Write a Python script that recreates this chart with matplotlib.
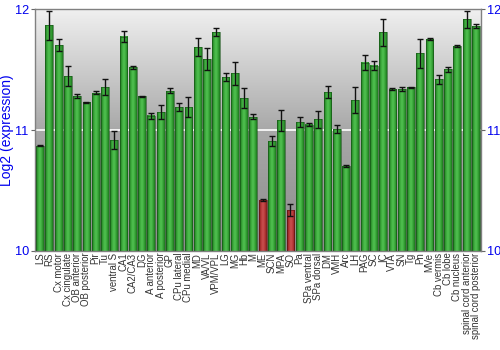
import matplotlib
matplotlib.use('Agg')
import matplotlib.pyplot as plt
from matplotlib.colors import LinearSegmentedColormap
import numpy as np

plt.rcParams['font.family'] = ['Liberation Sans', 'DejaVu Sans']

# brain regions and their log2 expression (mean, error)
regions = ['LS', 'RS', 'Cx motor', 'Cx cingulate', 'OB anterior', 'OB posterior',
           'Pir', 'Tu', 'ventral S', 'CA1', 'CA2/CA3', 'DG', 'A anterior',
           'A posterior', 'GP', 'CPu lateral', 'CPu medial', 'MD', 'VA/VL',
           'VPM/VPL', 'LG', 'MG', 'Hb', 'M', 'ME', 'SCN', 'MPA', 'SO', 'Pa',
           'SPa ventral', 'SPa dorsal', 'DM', 'VMH', 'Arc', 'LH', 'PAG', 'SC',
           'IC', 'VTA', 'SN', 'Tg', 'Pn', 'MVe', 'Cb vermis', 'Cb lobe',
           'Cb nucleus', 'spinal cord anterior', 'spinal cord posterior']
expr = [10.87, 11.87, 11.705, 11.45, 11.28, 11.23,
        11.31, 11.355, 10.92, 11.775, 11.52, 11.28, 11.12,
        11.15, 11.325, 11.19, 11.19, 11.685, 11.59,
        11.81, 11.44, 11.47, 11.265, 11.11, 10.42, 10.91, 11.08, 10.34, 11.066,
        11.045, 11.09, 11.315, 11.008, 10.70, 11.25, 11.56, 11.535,
        11.81, 11.34, 11.34, 11.355, 11.635, 11.755, 11.42, 11.505,
        11.70, 11.92, 11.86]
err = [0.005, 0.12, 0.05, 0.085, 0.015, 0.004,
       0.015, 0.065, 0.075, 0.047, 0.01, 0.004, 0.025,
       0.06, 0.02, 0.03, 0.083, 0.075, 0.093,
       0.033, 0.035, 0.097, 0.085, 0.02, 0.01, 0.04, 0.09, 0.05, 0.04,
       0.01, 0.07, 0.046, 0.03, 0.01, 0.11, 0.06, 0.04,
       0.11, 0.005, 0.017, 0.005, 0.12, 0.008, 0.036, 0.02,
       0.008, 0.07, 0.017]
low = ['ME', 'SO']

ymin, ymax = 10, 12
blue = '#0000ee'

fig = plt.figure(figsize=(5, 3.5), dpi=100)
ax = fig.add_axes([0.07, 0.284, 0.892, 0.689])

n = len(regions)
x = np.arange(n)
xlo, xhi = -0.55, n - 0.45

# grey vertical gradient behind the bars
bg = LinearSegmentedColormap.from_list('bg', [(0, '#8c8c8c'), (0.5, '#a8a8a8'), (1, '#f0f0f0')])
ax.imshow(np.linspace(0, 1, 256).reshape(-1, 1), cmap=bg, aspect='auto',
          extent=(xlo, xhi, ymin, ymax), origin='lower', zorder=0)
ax.axhline(11, color='white', lw=1.2, zorder=1)

green = LinearSegmentedColormap.from_list('g', ['#1b6e1b', '#3aa83a', '#52c252', '#3aa83a', '#1d761d'])
red = LinearSegmentedColormap.from_list('r', ['#7a1a1a', '#b83838', '#c95050', '#b83838', '#7d1c1c'])
w = 0.84
grad = np.linspace(0, 1, 64).reshape(1, -1)
for i, (name, v) in enumerate(zip(regions, expr)):
    cm = red if name in low else green
    ax.imshow(grad, cmap=cm, aspect='auto', origin='lower',
              extent=(i - w / 2, i + w / 2, ymin, v), zorder=2)
    edge = '#5a1010' if name in low else '#145214'
    ax.bar(i, v - ymin, bottom=ymin, width=w, fill=False, edgecolor=edge,
           linewidth=0.4, zorder=3)

ax.errorbar(x, expr, yerr=err, fmt='none', ecolor='#111111', elinewidth=1,
            capsize=2.2, capthick=1, zorder=4)

ax.set_xlim(xlo, xhi)
ax.set_ylim(ymin, ymax)
ax.set_xticks(x)
ax.set_xticklabels(regions, rotation=90, fontsize=6.9, color='#333333')
ax.tick_params(axis='x', length=0, pad=1.5)
ax.set_yticks([10, 11, 12])
ax.tick_params(axis='y', labelsize=9.2, colors='#666666',
               length=3, pad=1.5, right=True, labelright=True)
plt.setp(ax.get_yticklabels(), color=blue)
for t in ax.yaxis.get_major_ticks():
    t.label2.set_color(blue)
ax.set_ylabel('Log2 (expression)', color=blue, fontsize=10)
ax.yaxis.set_label_coords(-0.047, 0.5)
for s in ax.spines.values():
    s.set_color('#808080')
    s.set_linewidth(1)

fig.savefig('out.png', dpi=100)
